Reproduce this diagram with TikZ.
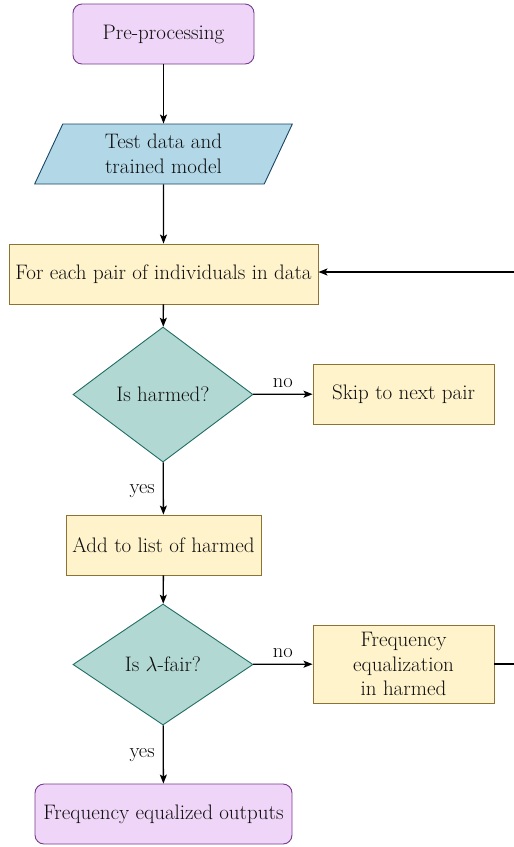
\documentclass[tikz,border=0pt]{standalone}
\usetikzlibrary{shapes.geometric,arrows.meta}
\definecolor{pfill}{RGB}{239,213,247}
\definecolor{pdraw}{RGB}{120,60,140}
\definecolor{bfill}{RGB}{178,216,232}
\definecolor{bdraw}{RGB}{25,70,100}
\definecolor{yfill}{RGB}{255,243,204}
\definecolor{ydraw}{RGB}{140,115,50}
\definecolor{dfill}{RGB}{178,216,212}
\definecolor{ddraw}{RGB}{35,110,100}
\definecolor{txt}{RGB}{15,15,15}
\tikzset{
  base/.style={text=txt, font=\rmfamily\fontsize{21}{24.5}\selectfont, align=center, inner sep=0pt, line width=0.9pt},
  termbox/.style={base, rectangle, rounded corners=9pt, fill=pfill, draw=pdraw},
  iobox/.style={base, trapezium, trapezium left angle=67.4, trapezium right angle=112.6, trapezium stretches=true, fill=bfill, draw=bdraw},
  procbox/.style={base, rectangle, fill=yfill, draw=ydraw},
  decbox/.style={base, diamond, fill=dfill, draw=ddraw},
  conn/.style={line width=1.3pt, -{Stealth[length=9pt,width=7pt,inset=2pt]}},
  lbl/.style={text=black, font=\rmfamily\fontsize{20.5}{23}\selectfont, inner sep=0pt}
}
\begin{document}
\begin{tikzpicture}[x=1pt,y=-1pt]
\useasboundingbox (0,0) rectangle (514,847);
\node[termbox, minimum width=181pt, minimum height=60pt] (pre) at (163.5,34) {Pre-processing};
\node[iobox, minimum width=258pt, minimum height=60pt] (data) at (163.5,154) {Test data and\\trained model};
\node[procbox, minimum width=309pt, minimum height=60pt] (pair) at (163.5,274) {For each pair of individuals in data};
\node[decbox, minimum width=180pt, minimum height=135pt] (harm) at (163,394.5) {Is harmed?};
\node[procbox, minimum width=181pt, minimum height=60pt] (skip) at (403.5,394) {Skip to next pair};
\node[procbox, minimum width=195pt, minimum height=60pt] (add) at (163.5,545) {Add to list of harmed};
\node[decbox, minimum width=180pt, minimum height=121pt] (fair) at (163,664.5) {Is $\lambda$-fair?};
\node[procbox, minimum width=181pt, minimum height=78pt] (freq) at (403.5,664) {Frequency\\equalization\\in harmed};
\node[termbox, minimum width=257pt, minimum height=60pt] (out) at (163.5,814) {Frequency equalized outputs};
\coordinate (rt) at (522,664);
\draw[conn] (pre) -- (data);
\draw[conn] (data) -- (pair);
\draw[conn] (pair) -- (harm);
\draw[conn] (harm) -- node[lbl, above=6pt] {no} (skip);
\draw[conn] (harm) -- node[lbl, left=8pt, yshift=-3pt] {yes} (add);
\draw[conn] (add) -- (fair);
\draw[conn] (fair) -- node[lbl, above=6pt] {no} (freq);
\draw[conn] (fair) -- node[lbl, left=8pt, yshift=-1pt] {yes} (out);
\draw[conn] (freq.east) -- (rt) |- ([yshift=2pt]pair.east);
\end{tikzpicture}
\end{document}
